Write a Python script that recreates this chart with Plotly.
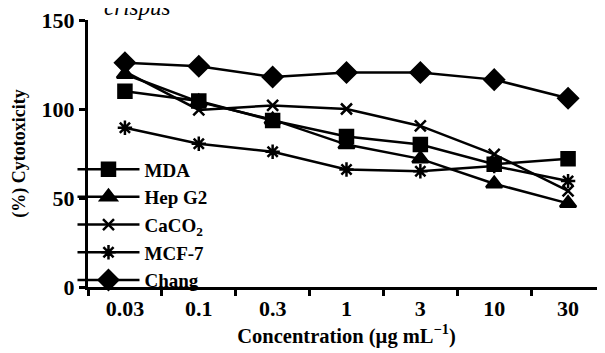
import plotly.graph_objects as go

concentrations = ["0.03", "0.1", "0.3", "1", "3", "10", "30"]
mda = [110, 104.5, 93.5, 84.5, 80, 69, 72]
hepg2 = [119.5, 104, 94, 80, 72, 58, 47]
caco2 = [121, 99.5, 102, 100, 90.5, 74.5, 54]
mcf7 = [89.5, 80.5, 76, 66, 65, 68, 59.5]
chang = [126, 124, 118, 120.5, 120.5, 116.5, 106]

series = [
    ("MDA", mda, "square", 13),
    ("Hep G2", hepg2, "triangle-up", 14),
    ("CaCO<sub>2</sub>", caco2, "x-thin-open", 11),
    ("MCF-7", mcf7, "asterisk-open", 12),
    ("Chang", chang, "diamond", 15),
]

FONT = "Liberation Serif"

fig = go.Figure()
for i, (name, vals, sym, sz) in enumerate(series):
    fig.add_trace(go.Scatter(
        x=concentrations, y=vals, name=name, mode="lines+markers",
        legendgroup=f"g{i}",
        line=dict(color="black", width=2.5),
        marker=dict(symbol=sym, size=sz, color="black",
                    line=dict(color="black", width=2.5)),
    ))

# page body adds an 8px offset, so the figure is sized to fit the window
fig.update_layout(
    width=597, height=345,
    margin=dict(l=80, r=0, t=9, b=66),
    paper_bgcolor="white", plot_bgcolor="white",
    font=dict(family=FONT, size=20, color="black", weight=700),
    showlegend=True,
    legend=dict(x=-0.03, y=0.512, xanchor="left", yanchor="top",
                bgcolor="rgba(0,0,0,0)", itemwidth=62,
                font=dict(family=FONT, size=19, color="black", weight=700),
                tracegroupgap=0, traceorder="normal"),
    xaxis=dict(type="category", range=[-0.5, 6.5], showgrid=False,
               showline=True, linecolor="black", linewidth=3,
               ticks="outside", tickson="boundaries", ticklen=6,
               tickwidth=2.5, tickcolor="black", zeroline=False,
               ticklabeloverflow="allow",
               title=dict(text="Concentration (µg mL<sup>−1</sup>)",
                          font=dict(size=20.5), standoff=3),
               tickfont=dict(size=22)),
    yaxis=dict(range=[0, 150], tickvals=[0, 50, 100, 150], showgrid=False,
               showline=True, linecolor="black", linewidth=3,
               ticks="outside", ticklen=6, tickwidth=2.5, tickcolor="black",
               zeroline=False, ticklabeloverflow="allow",
               title=dict(text="(%) Cytotoxicity", font=dict(size=18), standoff=12),
               tickfont=dict(size=22)),
    annotations=[dict(text="<i>crispus</i>", xref="paper", yref="paper",
                      x=0.095, y=1, yshift=-2, xanchor="center", yanchor="bottom",
                      showarrow=False, font=dict(size=23, weight=400))],
)

fig.write_html("out.html")
